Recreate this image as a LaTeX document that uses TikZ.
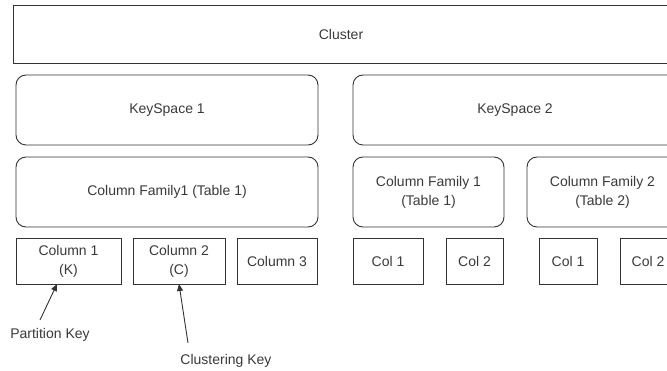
\documentclass[tikz,border=0pt]{standalone}
\usepackage{fontspec}
\setmainfont{Liberation Sans}
\usetikzlibrary{arrows.meta}
\definecolor{ink}{HTML}{333333}
\definecolor{label}{HTML}{3A3A3A}
\tikzset{
  box/.style={draw=ink, line width=0.9pt, rectangle, inner sep=0pt, align=center,
              text=label, font=\fontsize{14}{19}\selectfont},
  rbox/.style={box, rounded corners=10pt},
  note/.style={inner sep=0pt, text=label, font=\fontsize{14}{19}\selectfont},
  pointer/.style={draw=ink, line width=0.9pt, -{Triangle[length=7pt,width=6pt]}}
}
\begin{document}
\begin{tikzpicture}[x=1pt, y=-1pt]
  \useasboundingbox (0,0) rectangle (667,371);
  \clip (0,0) rectangle (667,371);
  \fill[white] (0,0) rectangle (667,371);

  % cluster level
  \node[box, minimum width=656pt, minimum height=58pt] (cluster) at (341,34) {Cluster};

  % keyspaces
  \node[rbox, minimum width=302pt, minimum height=70pt] (ks1) at (167,110) {KeySpace 1};
  \node[rbox, minimum width=324pt, minimum height=70pt] (ks2) at (515,110) {KeySpace 2};

  % column families
  \node[rbox, minimum width=302pt, minimum height=70pt] (cf1) at (167,192) {Column Family1 (Table 1)};
  \node[rbox, minimum width=151pt, minimum height=70pt] (cf21) at (428.5,192) {Column Family 1\\(Table 1)};
  \node[rbox, minimum width=151pt, minimum height=70pt] (cf22) at (602.5,192) {Column Family 2\\(Table 2)};

  % columns
  \node[box, minimum width=105pt, minimum height=46pt] (c1) at (68.5,261) {Column 1\\(K)};
  \node[box, minimum width=92pt, minimum height=46pt] (c2) at (179,261) {Column 2\\(C)};
  \node[box, minimum width=80pt, minimum height=46pt] (c3) at (277,261) {Column 3};
  \node[box, minimum width=70pt, minimum height=46pt] (d1) at (388,261) {Col 1};
  \node[box, minimum width=57pt, minimum height=46pt] (d2) at (474.5,261) {Col 2};
  \node[box, minimum width=58pt, minimum height=46pt] (e1) at (568,261) {Col 1};
  \node[box, minimum width=56pt, minimum height=46pt] (e2) at (648,261) {Col 2};

  % key annotations
  \node[note] (pk) at (50,335) {Partition Key};
  \node[note] (ck) at (226,361) {Clustering Key};
  \coordinate (pkfrom) at (40,320);
  \coordinate (ckfrom) at (188,343);
  \coordinate (pkto) at (57,284);
  \coordinate (ckto) at (179,284);
  \draw[pointer] (pkfrom) -- (pkto);
  \draw[pointer] (ckfrom) -- (ckto);
\end{tikzpicture}
\end{document}
